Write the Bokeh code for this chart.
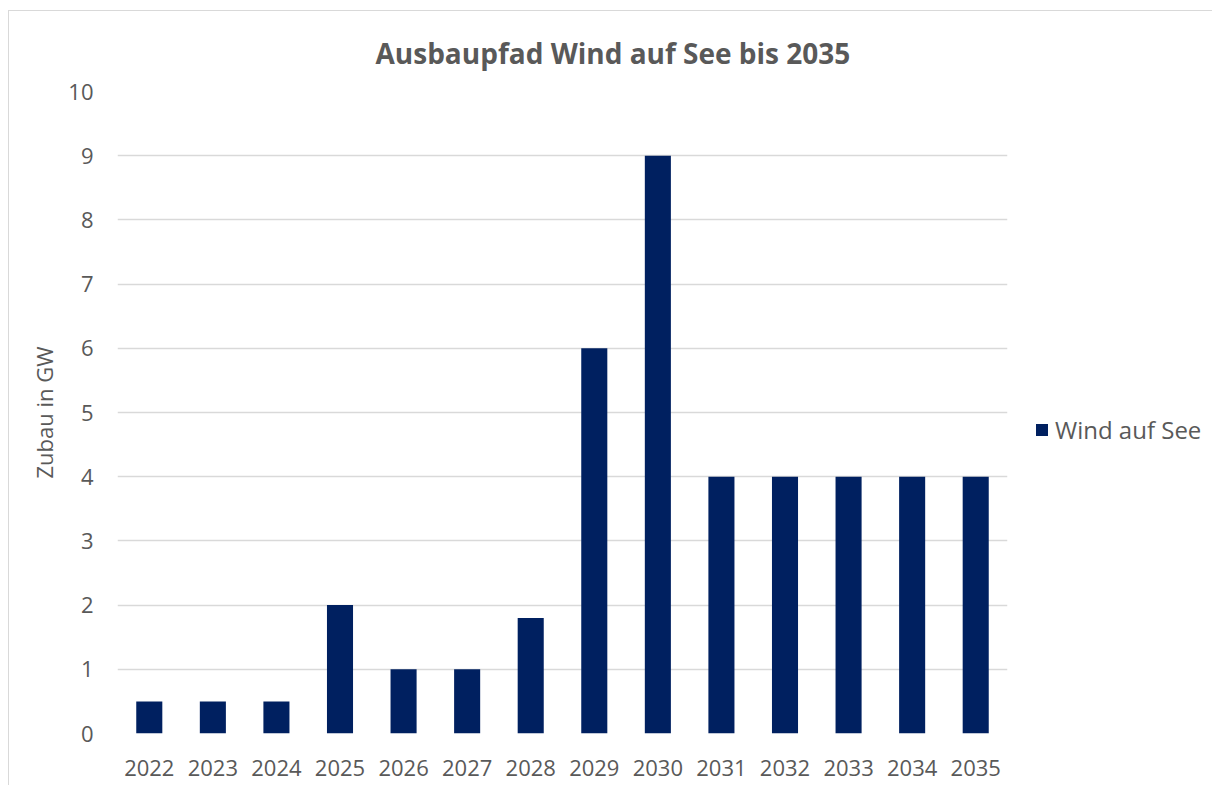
from bokeh.plotting import figure
from bokeh.models import FactorRange, Range1d, Legend, LegendItem, ColumnDataSource, FixedTicker
from bokeh.embed import file_html
from bokeh.resources import INLINE

years = ["2022", "2023", "2024", "2025", "2026", "2027", "2028", "2029", "2030",
         "2031", "2032", "2033", "2034", "2035"]
values = [0.5, 0.5, 0.5, 2, 1, 1, 1.8, 6, 9, 4, 4, 4, 4, 4]
y_ticks = list(range(0, 11))

FONT = "Open Sans"
TXT = "#595959"

src = ColumnDataSource(dict(x=years, top=values))

p = figure(frame_width=890, frame_height=642, output_backend="svg", toolbar_location=None,
           x_range=FactorRange(*years, range_padding=0), y_range=Range1d(0, 10),
           min_border_left=117, min_border_right=0, min_border_top=91, min_border_bottom=52)
p.border_fill_alpha = 0
p.styles = {"background": "linear-gradient(#d9d9d9,#d9d9d9) 8px 10px / 1px 100% no-repeat, "
                          "linear-gradient(#d9d9d9,#d9d9d9) 8px 10px / 100% 1px no-repeat, white"}

r = p.vbar(x="x", top="top", width=0.41, source=src, fill_color="#002060", line_color=None)

p.title.text = "Ausbaupfad Wind auf See bis 2035"
p.title.align = "left"
p.title.offset = 258
p.title.text_font = FONT
p.title.text_font_size = "28px"
p.title.text_font_style = "bold"
p.title.text_color = TXT
p.title.standoff = 39

p.outline_line_color = None
p.xgrid.grid_line_color = None
p.ygrid.grid_line_color = "#d9d9d9"
p.ygrid.grid_line_width = 1.5
p.yaxis.ticker = FixedTicker(ticks=y_ticks)

for ax in (p.xaxis[0], p.yaxis[0]):
    ax.axis_line_color = None
    ax.major_tick_line_color = None
    ax.minor_tick_line_color = None
    ax.major_label_text_font = FONT
    ax.major_label_text_font_size = "22px"
    ax.major_label_text_color = TXT

p.xaxis.major_label_standoff = 20
p.yaxis.major_label_standoff = 18
p.yaxis.axis_label = "Zubau in GW"
p.yaxis.axis_label_text_font = FONT
p.yaxis.axis_label_text_font_size = "22px"
p.yaxis.axis_label_text_font_style = "normal"
p.yaxis.axis_label_text_color = TXT
p.yaxis.axis_label_standoff = 6

legend = Legend(items=[LegendItem(label="Wind auf See", renderers=[r])],
                location=(27, 287), border_line_color=None, background_fill_alpha=0,
                label_text_font=FONT, label_text_font_size="24px", label_text_color=TXT,
                glyph_width=15, glyph_height=15, label_standoff=6, margin=30, padding=0)
p.add_layout(legend, "right")

open("out.html", "w").write(file_html(p, INLINE))
